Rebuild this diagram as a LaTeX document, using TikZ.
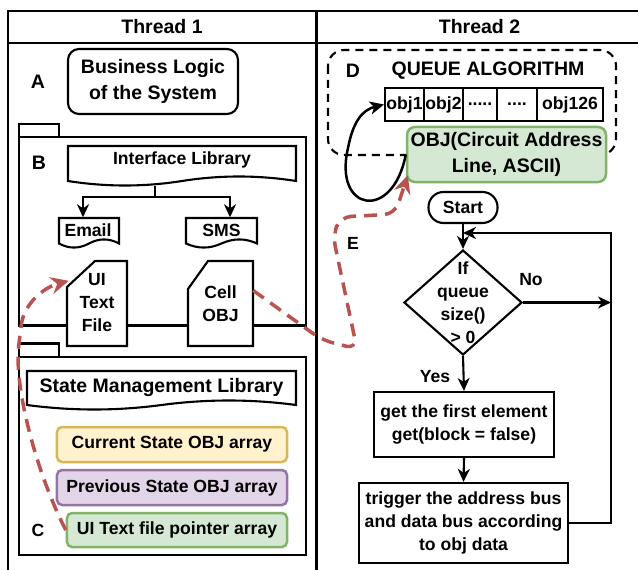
\documentclass[tikz,border=0pt]{standalone}
\usepackage{fontspec}
\setmainfont{Liberation Sans}
\usetikzlibrary{arrows.meta,calc,shapes.geometric}

\definecolor{redpath}{HTML}{B85450}
\definecolor{yelfill}{HTML}{FFF2CC}
\definecolor{yeldraw}{HTML}{D6B656}
\definecolor{purfill}{HTML}{E1D5E7}
\definecolor{purdraw}{HTML}{9673A6}
\definecolor{grnfill}{HTML}{D5E8D4}
\definecolor{grndraw}{HTML}{82B366}

% document shape with a wavy lower edge: x1, x2, top, lowest point, wave depth
\newcommand{\wavydoc}[5]{%
  \pgfmathsetmacro{\wavW}{(#2-#1)/6}%
  \pgfmathsetmacro{\wavM}{(#1+#2)/2}%
  \pgfmathsetmacro{\wavA}{#4-0.5*#5}%
  \pgfmathsetmacro{\wavB}{#4-1.1*#5}%
  \pgfmathsetmacro{\wavC}{#4+0.1*#5}%
  \draw[outline, fill=white] (#1,#3) -- (#2,#3) -- (#2,\wavA)
    .. controls (#2-\wavW,\wavB) and (\wavM+\wavW,\wavB) .. (\wavM,\wavA)
    .. controls (\wavM-\wavW,\wavC) and (#1+\wavW,\wavC) .. (#1,\wavA) -- cycle;}

% card shape with the upper left corner cut: x1, x2, top, bottom, cut x, cut y
\newcommand{\cardoutline}[6]{%
  \draw[outline, fill=white] (#1,#3+#6) -- (#1+#5,#3) -- (#2,#3) -- (#2,#4) -- (#1,#4) -- cycle;}

\begin{document}
\begin{tikzpicture}[x=1bp,y=-1bp,
  outline/.style={line width=2.1bp, line join=miter},
  bigtext/.style={font=\fontsize{19.5bp}{26bp}\selectfont\bfseries, align=center, inner sep=0pt},
  smalltext/.style={font=\fontsize{17.6bp}{23bp}\selectfont\bfseries, align=center, inner sep=0pt},
  arr/.style={line width=2.1bp, -{Stealth[length=13bp,width=12bp,inset=4bp]}},
  arraybox/.style={smalltext, draw, line width=2.5bp, rounded corners=5bp, minimum width=230bp, minimum height=35bp},
  cell/.style={smalltext, draw, outline, minimum height=33bp},
  flowbox/.style={smalltext, draw, outline},
  reddash/.style={draw=redpath, line width=3.5bp, dash pattern=on 13bp off 8bp,
    rounded corners=11bp, -{Stealth[length=18bp,width=17bp,inset=6bp]}},
  ]
\useasboundingbox (0,0) rectangle (638,570);

% swimlanes
\draw[outline] (8,575) -- (8,10.7) -- (645,10.7);
\draw[outline] (8,42.7) -- (645,42.7);
\draw[outline] (316.5,10.7) -- (316.5,575);
\node[bigtext] (thread1) at (162,27) {Thread 1};
\node[bigtext] (thread2) at (479.5,27) {Thread 2};

% ---------- Thread 1 ----------
\node[bigtext] (lblA) at (38,82) {A};
\node[bigtext, draw, outline, rounded corners=11bp, minimum width=170bp, minimum height=65bp]
  (biz) at (153,81.5) {Business Logic\\of the System};

% package B
\draw[outline] (19,124) rectangle (59,137);
\draw[outline] (19,137) rectangle (306,325.5);
\node[bigtext] (lblB) at (39,163) {B};

\wavydoc{68}{296}{146}{186}{10}
\node[smalltext, minimum height=52bp] (iface) at (182,160) {Interface Library};
\wavydoc{59}{119}{218}{248}{9}
\node[smalltext, minimum height=26bp] (email) at (88,230.5) {Email};
\wavydoc{186}{257}{218}{248}{9}
\node[smalltext, minimum height=26bp] (sms) at (221.5,230.5) {SMS};

\coordinate (split) at (155,197);
\draw[outline] (iface.south -| split) -- (split);
\draw[arr] (split) -| ($(email.north)+(-5,0)$);
\draw[arr] (split) -| ($(sms.north)+(8.5,0)$);

\cardoutline{67}{127}{261}{346}{28}{26}
\node[smalltext, minimum width=60bp, minimum height=85bp] (uifile) at (97,302.5) {UI\\Text\\File};
\cardoutline{188}{253}{261}{346}{20}{28}
\node[smalltext, minimum width=65bp, minimum height=85bp] (cellobj) at (220.5,303.5) {Cell\\OBJ};

% package C
\draw[outline] (19,343.5) rectangle (59,357);
\draw[outline] (19,357) rectangle (306,555);
\wavydoc{27}{296}{371}{410}{10}
\node[bigtext] (statelib) at (161.5,387) {State Management Library};

\node[arraybox, fill=yelfill, draw=yeldraw] (cur) at (172,444.5) {Current State OBJ array};
\node[arraybox, fill=purfill, draw=purdraw] (prev) at (172,487.5) {Previous State OBJ array};
\node[arraybox, fill=grnfill, draw=grndraw, minimum width=220bp, minimum height=34bp]
  (ptr) at (177,530) {UI Text file pointer array};
\node[smalltext] (lblC) at (38,530) {C};

% ---------- Thread 2 ----------
\draw[line width=2.1bp, dash pattern=on 8bp off 6bp, rounded corners=16bp] (328,50) rectangle (616,155);
\node[bigtext] (lblD) at (353,71) {D};
\node[bigtext] (qtitle) at (488,71) {QUEUE ALGORITHM};

\node[cell, minimum width=39bp] (obj1) at (404.5,104.5) {obj1};
\node[cell, minimum width=39bp] (obj2) at (443.5,104.5) {obj2};
\node[cell, minimum width=34bp] (dotsA) at (480,104.5) {.....};
\node[cell, minimum width=40bp] (dotsB) at (517,104.5) {....};
\node[cell, minimum width=66bp] (obj126) at (570,104.5) {obj126};

\node[bigtext, draw=grndraw, fill=grnfill, line width=2.5bp, rounded corners=8bp,
  minimum width=199bp, minimum height=55bp] (objbox) at (506.5,154.5) {OBJ(Circuit Address\\Line, ASCII)};

\draw[line width=2.5bp, -{Stealth[length=14bp,width=13bp,inset=4bp]}]
  (objbox.west) .. controls (393,222) and (333,212) .. (348,148)
  .. controls (353,122) and (362,110) .. (obj1.west);

% flowchart
\node[smalltext] (lblE) at (353,243) {E};
\node[flowbox, rounded corners=15bp, minimum width=69bp, minimum height=31bp] (start) at (463,207.5) {Start};
\node[diamond, draw, outline, minimum width=118bp, minimum height=105bp, inner sep=0pt] (dia) at (463,302.5) {};
\node[smalltext] (diatext) at (463,302.5) {If\\queue\\size()\\> 0};
\node[smalltext] (no) at (531,280) {No};
\node[smalltext] (yes) at (435,377) {Yes};
\node[flowbox, minimum width=180bp, minimum height=65bp] (box1) at (464,424.5) {get the first element\\get(block = false)};
\node[flowbox, minimum width=209bp, minimum height=80bp] (box2) at (463.5,523) {trigger the address bus\\and data bus according\\to obj data};

\coordinate (noend) at (611,302.5);
\coordinate (loopcorner) at (611,233);
\draw[arr] (start.south) -- (dia.north);
\draw[arr] (dia.east) -- (noend);
\draw[arr] (box2.east) -| (loopcorner) -- (loopcorner -| dia.north);
\draw[arr] (dia.south) -- (box1.north);
\draw[arr] (box1.south) -- (box2.north);

% references between the threads
\draw[reddash] ($(cellobj.east)+(0,-13)$) -- (322,340) -- (357,349) -- (333,236) -- (340,217)
  -- (395,214) -- ($(objbox.south west)+(2,-8)$);
\draw[reddash] (ptr.west) .. controls (35,470) and (14,385) .. (20,335)
  .. controls (24,305) and (42,288) .. ($(uifile.north west)+(2,21)$);
\end{tikzpicture}
\end{document}
